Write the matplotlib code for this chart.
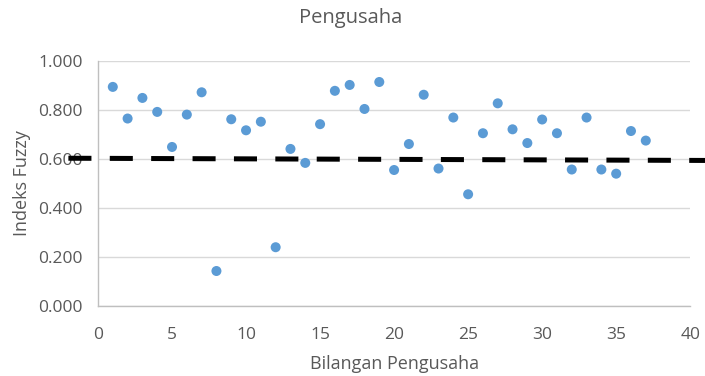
import matplotlib
matplotlib.use("Agg")
import matplotlib.pyplot as plt
from matplotlib.ticker import FormatStrFormatter

# Fuzzy index for each entrepreneur
entrepreneur_no = list(range(1, 38))
fuzzy_index = [
    0.894, 0.765, 0.849, 0.792, 0.649, 0.781, 0.872, 0.143, 0.762, 0.717,
    0.752, 0.240, 0.641, 0.584, 0.742, 0.878, 0.902, 0.804, 0.914, 0.555,
    0.661, 0.862, 0.561, 0.769, 0.456, 0.705, 0.827, 0.721, 0.665, 0.761,
    0.705, 0.557, 0.769, 0.557, 0.540, 0.714, 0.675,
]

# Dashed reference line (end points)
ref_x = [-2.0, 41.0]
ref_y = [0.603, 0.594]

x_ticks = [0, 5, 10, 15, 20, 25, 30, 35, 40]
y_ticks = [0.0, 0.2, 0.4, 0.6, 0.8, 1.0]

text_color = "#595959"
plt.rcParams["font.family"] = ["Open Sans", "DejaVu Sans"]
plt.rcParams["lines.scale_dashes"] = False

fig = plt.figure(figsize=(7.05, 3.76), dpi=100)
ax = fig.add_axes([0.139, 0.186, 0.840, 0.652])

ax.scatter(entrepreneur_no, fuzzy_index, s=52, color="#5B9BD5",
           edgecolors="none", zorder=3)
ax.plot(ref_x, ref_y, color="black", linewidth=3.6,
        dashes=(16.6, 13.2), clip_on=False, zorder=4,
        dash_capstyle="butt")

ax.set_xlim(0, 40)
ax.set_ylim(0, 1.0)
ax.set_xticks(x_ticks)
ax.set_yticks(y_ticks)
ax.yaxis.set_major_formatter(FormatStrFormatter("%.3f"))

ax.grid(axis="y", color="#D9D9D9", linewidth=1.0)
ax.set_axisbelow(True)
for side in ("top", "right"):
    ax.spines[side].set_visible(False)
for side in ("left", "bottom"):
    ax.spines[side].set_color("#BFBFBF")
    ax.spines[side].set_linewidth(1.0)

ax.tick_params(axis="both", length=0, labelsize=12.5, colors=text_color)
ax.tick_params(axis="x", pad=15)
ax.tick_params(axis="y", pad=11)

ax.set_xlabel("Bilangan Pengusaha", fontsize=13, color=text_color,
              labelpad=9)
ax.set_ylabel("Indeks Fuzzy", fontsize=13, color=text_color, labelpad=5)
fig.text(0.497, 0.952, "Pengusaha", ha="center", va="center",
         fontsize=14.5, color=text_color)

fig.savefig("out.png", dpi=100, facecolor="white")
